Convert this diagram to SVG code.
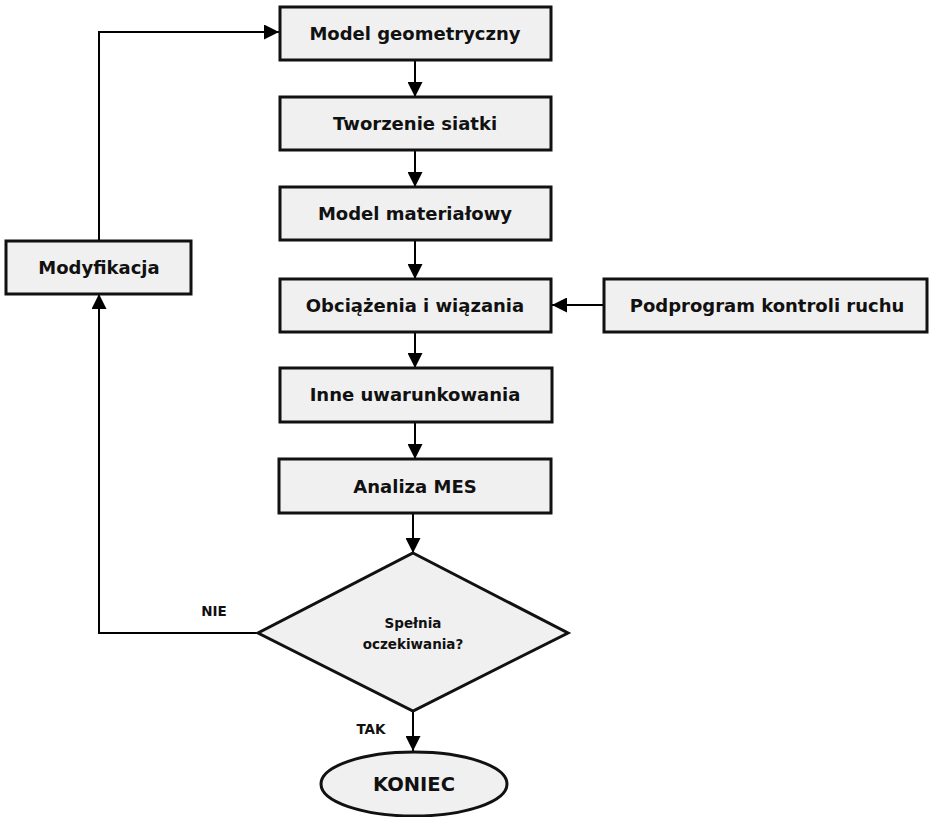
<svg xmlns="http://www.w3.org/2000/svg" width="931" height="817" viewBox="0 0 931 817">
<defs>
<marker id="ah" viewBox="0 0 10 10" refX="10" refY="5" markerWidth="15" markerHeight="15" markerUnits="userSpaceOnUse" orient="auto">
<path d="M0,0 L10,5 L0,10 z" fill="#000"/>
</marker>
<style>
.box{fill:#f0f0f0;stroke:#111;stroke-width:3}
.t{font-family:"DejaVu Sans",Verdana,sans-serif;font-weight:bold;font-size:18px;fill:#111;text-anchor:middle}
.s{font-family:"DejaVu Sans",Verdana,sans-serif;font-weight:bold;font-size:13.5px;fill:#111;text-anchor:middle}
.c{fill:none;stroke:#000;stroke-width:2;marker-end:url(#ah)}
</style>
</defs>
<rect width="931" height="817" fill="#fff"/>
<g id="connectors">
<path class="c" d="M415,60 L415,97"/>
<path class="c" d="M415,150 L415,187"/>
<path class="c" d="M415,240 L415,279"/>
<path class="c" d="M415,332 L415,368"/>
<path class="c" d="M415,422 L415,459"/>
<path class="c" d="M413,513 L413,553"/>
<path class="c" d="M413,711 L413,751"/>
<path class="c" d="M604,305 L552,305"/>
<path class="c" d="M258,633 L99,633 L99,294"/>
<path class="c" d="M99,241 L99,32 L279,32"/>
<text class="s" x="214" y="616">NIE</text>
<text class="s" x="371" y="734">TAK</text>
</g>
<g id="n1"><rect class="box" x="280" y="7" width="271" height="53"/><text class="t" x="415" y="40">Model geometryczny</text></g>
<g id="n2"><rect class="box" x="280" y="97" width="271" height="53"/><text class="t" x="415" y="130">Tworzenie siatki</text></g>
<g id="n3"><rect class="box" x="280" y="187" width="271" height="53"/><text class="t" x="415" y="220">Model materiałowy</text></g>
<g id="n4"><rect class="box" x="280" y="279" width="271" height="53"/><text class="t" x="415" y="312">Obciążenia i wiązania</text></g>
<g id="n5"><rect class="box" x="280" y="368" width="272" height="54"/><text class="t" x="415" y="401">Inne uwarunkowania</text></g>
<g id="n6"><rect class="box" x="279" y="459" width="272" height="54"/><text class="t" x="415" y="493">Analiza MES</text></g>
<g id="n7"><polygon class="box" points="413,553 568,633 413,711 258,633"/><text class="s" x="413" y="628">Spełnia</text><text class="s" x="413" y="649">oczekiwania?</text></g>
<g id="n8"><ellipse class="box" cx="414" cy="784" rx="93" ry="32"/><text class="t" x="414" y="791" style="font-size:19.5px">KONIEC</text></g>
<g id="n9"><rect class="box" x="6" y="241" width="185" height="53"/><text class="t" x="99" y="274">Modyfikacja</text></g>
<g id="n10"><rect class="box" x="604" y="279" width="323" height="53"/><text class="t" x="767" y="312">Podprogram kontroli ruchu</text></g>
</svg>
